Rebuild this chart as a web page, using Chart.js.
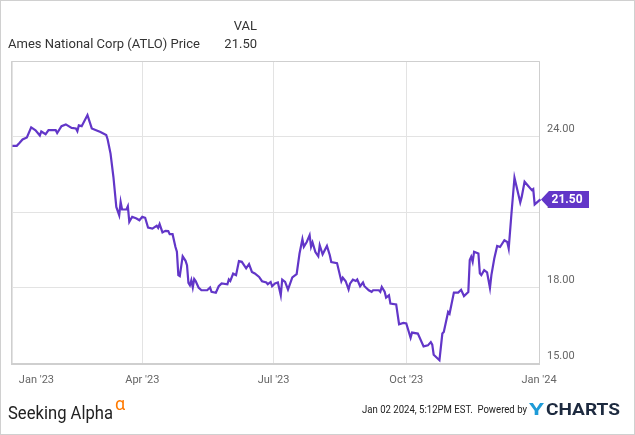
<!DOCTYPE html>
<html>
<head>
<meta charset="utf-8">
<script src="https://cdn.jsdelivr.net/npm/chart.js@4.4.0/dist/chart.umd.min.js"></script>
<style>
  html, body { margin: 0; padding: 0; background: #fff; }
  canvas { display: block; }
</style>
</head>
<body>
<canvas id="priceChart" width="635" height="435"></canvas>
<script>
// days since Jan 1 2023
const dayOffsets = [
  0, 3, 5, 7, 10, 13, 16, 19, 20, 23, 25, 30, 31, 34, 37, 41, 44, 45, 46, 48,
  52, 55, 58, 61, 65, 66, 68, 70, 72, 74, 75, 76, 79, 80, 81, 83, 86, 88, 90, 92,
  94, 97, 100, 101, 102, 104, 106, 108, 109, 111, 113, 114, 115, 116, 118, 120, 121, 122, 123, 124,
  125, 126, 127, 129, 131, 135, 137, 138, 141, 143, 145, 149, 150, 151, 153, 155, 157, 159, 162, 164,
  166, 168, 171, 173, 176, 177, 179, 180, 182, 184, 186, 187, 189, 191, 194, 197, 199, 201, 202, 204,
  206, 207, 208, 210, 212, 213, 215, 218, 220, 221, 225, 228, 229, 231, 233, 234, 236, 238, 239, 241,
  243, 244, 247, 249, 250, 254, 255, 256, 258, 259, 261, 262, 266, 268, 271, 273, 276, 277, 281, 285,
  288, 290, 291, 292, 296, 298, 299, 302, 303, 306, 309, 311, 313, 316, 317, 318, 319, 320, 323, 324,
  325, 327, 329, 331, 332, 334, 336, 338, 341, 343, 344, 346, 348, 350, 352, 353, 355, 358, 360, 361,
  362, 366
];

const prices = [
  23.63, 23.63, 23.75, 23.88, 23.96, 24.36, 24.25, 24.04, 24.20, 24.09, 24.25, 24.25, 24.14, 24.41, 24.48, 24.34, 24.32, 24.21, 24.44, 24.41,
  24.85, 24.32, 24.25, 24.18, 24.06, 23.88, 23.32, 22.39, 21.20, 20.87, 21.40, 21.10, 21.10, 21.23, 20.61, 20.81, 20.74, 20.67, 20.81, 20.77,
  20.38, 20.34, 20.45, 20.37, 20.52, 20.19, 20.25, 20.24, 20.12, 20.12, 19.61, 19.42, 18.49, 18.45, 19.24, 19.06, 18.89, 18.18, 18.09, 18.29,
  18.00, 18.34, 18.26, 18.00, 17.89, 17.89, 18.00, 17.83, 17.79, 18.05, 18.16, 18.13, 18.32, 18.26, 18.55, 18.49, 19.05, 19.02, 18.76, 18.93,
  18.62, 18.56, 18.42, 18.25, 18.20, 18.13, 18.22, 18.05, 18.16, 18.20, 17.69, 18.31, 18.22, 17.92, 18.40, 18.53, 19.35, 19.92, 19.62, 19.81,
  20.08, 19.62, 19.79, 19.41, 19.24, 19.68, 19.32, 19.65, 19.28, 19.01, 18.97, 18.25, 18.39, 18.25, 17.92, 18.15, 18.31, 18.26, 18.32, 18.05,
  18.20, 18.05, 17.89, 17.83, 17.89, 17.89, 17.83, 18.02, 17.83, 17.60, 17.69, 17.36, 17.33, 16.54, 16.59, 16.57, 16.00, 16.21, 16.17, 15.66,
  15.70, 15.83, 15.73, 15.33, 15.11, 16.17, 16.23, 17.03, 16.96, 17.80, 17.80, 17.91, 17.66, 17.82, 19.09, 19.22, 19.02, 19.42, 19.35, 18.56,
  18.49, 18.69, 18.60, 17.98, 18.49, 19.15, 19.65, 19.61, 19.88, 19.81, 19.55, 21.00, 22.36, 21.87, 21.38, 21.60, 22.20, 22.00, 21.87, 21.91,
  21.30, 21.50
];

const xTickDays = [0, 90, 181, 273, 365];
const xTickLabels = ["Jan '23", "Apr '23", "Jul '23", "Oct '23", "Jan '24"];
const yTickValues = [15, 18, 21, 24, 27];

const seriesName = 'Ames National Corp (ATLO) Price';
const footerStamp = 'Jan 02 2024, 5:12PM EST.  Powered by';
const lineColor = '#6236c8';
const lastPrice = prices[prices.length - 1];

const FONT = 'Roboto, "Noto Sans", sans-serif';

// draws text squeezed/stretched to a given width
const fillTextWidth = (ctx, text, x, y, width) => {
  const w = ctx.measureText(text).width;
  ctx.save();
  ctx.translate(x, y);
  ctx.scale(width / w, 1);
  ctx.fillText(text, 0, 0);
  ctx.restore();
};

const decorPlugin = {
  id: 'decor',
  beforeDatasetsDraw(chart) {
    const { ctx, chartArea: a } = chart;
    ctx.save();
    ctx.strokeStyle = '#cfcfcf';
    ctx.lineWidth = 1;
    ctx.beginPath();
    ctx.moveTo(a.left + 0.5, a.bottom);
    ctx.lineTo(a.left + 0.5, a.top + 0.5);
    ctx.lineTo(a.right + 0.5, a.top + 0.5);
    ctx.lineTo(a.right + 0.5, a.bottom);
    ctx.stroke();
    ctx.lineWidth = 2;
    ctx.beginPath();
    ctx.moveTo(a.left, a.bottom + 1);
    ctx.lineTo(a.right + 1, a.bottom + 1);
    ctx.stroke();
    ctx.restore();
  },
  afterDraw(chart) {
    const { ctx } = chart;
    const xScale = chart.scales.x;
    const yScale = chart.scales.y;
    ctx.save();

    // header
    ctx.fillStyle = '#333';
    ctx.font = `13px ${FONT}`;
    ctx.textBaseline = 'middle';
    ctx.textAlign = 'left';
    ctx.fillText(seriesName, 8, 45);
    ctx.textAlign = 'right';
    ctx.fillText('VAL', 257, 27);
    ctx.fillText(lastPrice.toFixed(2), 257, 45);

    // x labels
    ctx.fillStyle = '#666';
    ctx.font = `11px ${FONT}`;
    ctx.textAlign = 'center';
    xTickDays.forEach((d, i) => {
      let x = xScale.getPixelForValue(d);
      if (i === 0) x += 24;
      ctx.fillText(xTickLabels[i], x, 380);
    });

    // last price tag
    const tipX = xScale.getPixelForValue(dayOffsets[dayOffsets.length - 1]) + 0.5;
    const tipY = yScale.getPixelForValue(lastPrice);
    ctx.fillStyle = lineColor;
    ctx.beginPath();
    ctx.moveTo(tipX, tipY);
    ctx.lineTo(tipX + 8, tipY - 8.5);
    ctx.lineTo(589, tipY - 8.5);
    ctx.lineTo(589, tipY + 8.5);
    ctx.lineTo(tipX + 8, tipY + 8.5);
    ctx.closePath();
    ctx.fill();
    ctx.fillStyle = '#fff';
    ctx.font = `bold 12px ${FONT}`;
    ctx.textAlign = 'center';
    ctx.fillText(lastPrice.toFixed(2), 567, tipY + 0.5);

    // footer: Seeking Alpha logo
    ctx.textAlign = 'left';
    ctx.textBaseline = 'alphabetic';
    ctx.fillStyle = '#222';
    ctx.font = `18px ${FONT}`;
    fillTextWidth(ctx, 'Seeking Alpha', 8, 419, 105);
    ctx.fillStyle = '#ff7a00';
    ctx.font = `18px ${FONT}`;
    ctx.fillText('\u03b1', 115, 410);

    // footer: timestamp + YCHARTS
    ctx.fillStyle = '#222';
    ctx.font = `11px ${FONT}`;
    fillTextWidth(ctx, footerStamp, 362, 413, 165);

    ctx.font = `bold 17px ${FONT}`;
    ctx.fillStyle = '#1e9bd7';
    fillTextWidth(ctx, 'Y', 529, 415, 15);
    ctx.fillStyle = '#1d2a3f';
    fillTextWidth(ctx, 'CHARTS', 546, 415, 74);

    // outer frame
    ctx.strokeStyle = '#d0d0d0';
    ctx.lineWidth = 1;
    ctx.strokeRect(0.5, 0.5, 634, 434);
    ctx.restore();
  }
};

const canvas = document.getElementById('priceChart');

new Chart(canvas, {
  type: 'line',
  data: {
    datasets: [{
      label: seriesName,
      data: dayOffsets.map((d, i) => ({ x: d, y: prices[i] })),
      borderColor: lineColor,
      borderWidth: 2.2,
      pointRadius: 0,
      tension: 0,
      fill: false,
      clip: false
    }]
  },
  options: {
    responsive: false,
    animation: false,
    devicePixelRatio: 1,
    layout: { padding: { left: 11, top: 61, right: 0, bottom: 72 } },
    plugins: {
      legend: { display: false },
      tooltip: { enabled: false }
    },
    scales: {
      x: {
        type: 'linear',
        min: -1,
        max: 365,
        afterBuildTicks: (scale) => { scale.ticks = xTickDays.map(v => ({ value: v })); },
        afterFit: (scale) => { scale.height = 0; },
        ticks: { display: false },
        grid: { color: '#e3e3e3', drawTicks: false },
        border: { display: false }
      },
      y: {
        position: 'right',
        min: 15,
        max: 27,
        afterBuildTicks: (scale) => { scale.ticks = yTickValues.map(v => ({ value: v })); },
        afterFit: (scale) => { scale.width = 96; },
        ticks: {
          padding: 8,
          labelOffset: -7,
          color: '#666',
          font: { family: FONT, size: 11 },
          callback: (v) => (v === 27 ? '' : Number(v).toFixed(2))
        },
        grid: { color: '#e3e3e3', drawTicks: false },
        border: { display: false }
      }
    }
  },
  plugins: [decorPlugin]
});
</script>
</body>
</html>
